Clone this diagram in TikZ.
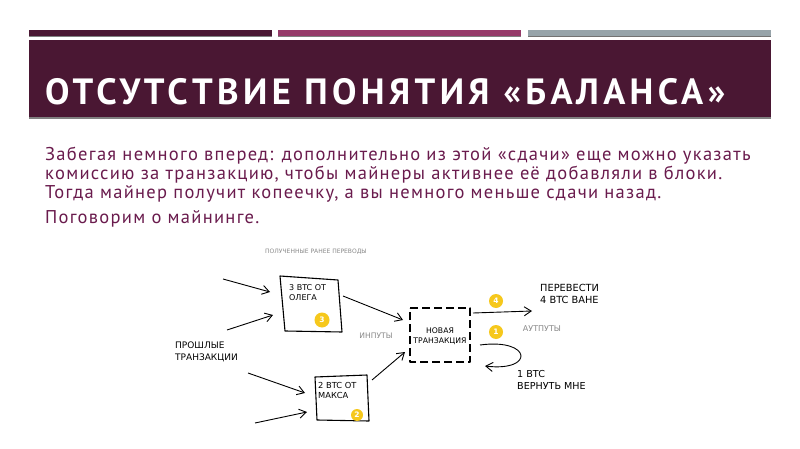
\documentclass[tikz,border=0pt]{standalone}
\usepackage{fontspec}
\setmainfont{PT Sans}
\newfontfamily\titlefont[LetterSpace=12]{PT Sans}
\newfontfamily\bodyfont[LetterSpace=7]{PT Sans}
\newfontfamily\handfont{DejaVu Sans}
\usetikzlibrary{arrows.meta}
\definecolor{banner}{HTML}{4A1733}
\definecolor{barpink}{HTML}{953A69}
\definecolor{bargrey}{HTML}{97A4AA}
\definecolor{shadowgrey}{HTML}{808080}
\definecolor{bodytext}{HTML}{6A1B4D}
\definecolor{coin}{HTML}{F6C81C}
\definecolor{notegrey}{HTML}{8A8A8A}
\begin{document}
\begin{tikzpicture}[x=1pt,y=-1pt,
 sketch/.style={line width=1.1pt, black, line join=round},
 arr/.style={line width=0.9pt, -{Straight Barb[length=7pt,width=9pt,line width=0.9pt]}},
 coinnode/.style={circle, fill=coin, inner sep=0pt, minimum size=14pt, text=white, font=\handfont\bfseries\fontsize{7.5}{8}\selectfont},
 hand/.style={font=\handfont\fontsize{9.6}{12}\selectfont, inner sep=0pt, align=left, anchor=north west},
 small/.style={font=\handfont\fontsize{8}{10}\selectfont, inner sep=0pt, align=left, anchor=north west},
 greynote/.style={font=\handfont\fontsize{6}{7}\selectfont, text=notegrey, inner sep=0pt},
 body/.style={font=\bodyfont\fontsize{18.5}{20}\selectfont, text=bodytext, inner sep=0pt, anchor=base west},
]
\useasboundingbox (0,0) rectangle (800,449);
\fill[white] (0,0) rectangle (800,449);
% top bars
\fill[shadowgrey] (29,31) rectangle (272,37.5);
\fill[banner] (29,30) rectangle (272,36);
\fill[shadowgrey] (278,31) rectangle (521,37.5);
\fill[barpink] (278,30) rectangle (521,36);
\fill[shadowgrey!90!black] (528,31) rectangle (771,37.5);
\fill[bargrey] (528,30) rectangle (771,36);
% banner
\fill[shadowgrey] (29,42) rectangle (771,119.5);
\fill[banner] (29,40) rectangle (771,117);
\node[font=\titlefont\bfseries\fontsize{36.5}{38}\selectfont, text=white, inner sep=0pt, anchor=base west] (title) at (45,105) {ОТСУТСТВИЕ ПОНЯТИЯ «БАЛАНСА»};
% body text
\node[body] (l1) at (45,161) {Забегая немного вперед: дополнительно из этой «сдачи» еще можно указать};
\node[body] (l2) at (45,180) {комиссию за транзакцию, чтобы майнеры активнее её добавляли в блоки.};
\node[body] (l3) at (45,199) {Тогда майнер получит копеечку, а вы немного меньше сдачи назад.};
\node[body] (l4) at (45,223) {Поговорим о майнинге.};
% diagram
\node[greynote] (recv) at (316,252) {ПОЛУЧЕННЫЕ РАНЕЕ ПЕРЕВОДЫ};
% box 3 BTC
\draw[sketch] (280,276) -- (338,280) -- (342,332) -- (285,331) -- cycle;
\node[small] (oleg) at (289,284) {3 BTC ОТ\\ОЛЕГА};
\node[coinnode, minimum size=15pt] (c3) at (322,320) {3};
% box 2 BTC
\draw[sketch] (315,377) -- (367,375) -- (369,421) -- (317,420) -- cycle;
\node[small, font=\handfont\fontsize{8.3}{10}\selectfont] (maks) at (318,382) {2 BTC ОТ\\МАКСА};
\node[coinnode, minimum size=12pt] (c2) at (357,415) {2};
% new transaction
\draw[sketch, dash pattern=on 8pt off 4pt] (410,308) -- (470,308) -- (470,362) -- (410,362) -- cycle;
\node[small, font=\handfont\fontsize{7.7}{10}\selectfont, anchor=center, align=center] (newtx) at (440,336) {НОВАЯ\\ТРАНЗАКЦИЯ};
\node[greynote, font=\handfont\fontsize{7.6}{9}\selectfont] (inputs) at (376,336) {ИНПУТЫ};
\node[greynote, font=\handfont\fontsize{8}{9}\selectfont] (outputs) at (542,329) {АУТПУТЫ};
\node[hand, font=\handfont\fontsize{9}{12}\selectfont] (past) at (175,342) {ПРОШЛЫЕ\\ТРАНЗАКЦИИ};
\node[hand, font=\handfont\fontsize{9.8}{12}\selectfont] (send) at (540,284) {ПЕРЕВЕСТИ\\4 BTC ВАНЕ};
\node[hand] (back) at (517,370) {1 BTC\\ВЕРНУТЬ МНЕ};
\node[coinnode] (c4) at (496,301) {4};
\node[coinnode] (c1) at (496,332) {1};
% connector end points
\coordinate (a1s) at (223,279); \coordinate (a1e) at (270,292);
\coordinate (a2s) at (227,330); \coordinate (a2e) at (273,315);
\coordinate (a3s) at (343,296); \coordinate (a3e) at (403,320);
\coordinate (a4s) at (248,373); \coordinate (a4e) at (305,393);
\coordinate (a5s) at (255,423); \coordinate (a5e) at (307,412);
\coordinate (a6s) at (372,380); \coordinate (a6e) at (405,352);
\coordinate (a7s) at (473,313); \coordinate (a7e) at (532,311);
\coordinate (a8s) at (480,345); \coordinate (a8e) at (485,366);
\draw[arr] (a1s) -- (a1e);
\draw[arr] (a2s) -- (a2e);
\draw[arr] (a3s) -- (a3e);
\draw[arr] (a4s) -- (a4e);
\draw[arr] (a5s) -- (a5e);
\draw[arr] (a6s) -- (a6e);
\draw[arr] (a7s) -- (a7e);
\draw[arr] (a8s) .. controls (532,338) and (535,372) .. (a8e);
\end{tikzpicture}
\end{document}
